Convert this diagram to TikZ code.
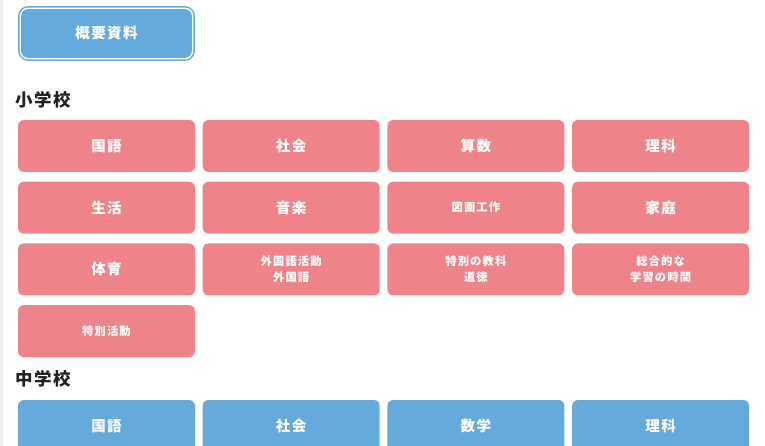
\documentclass[tikz,border=0pt]{standalone}
\usepackage{fontspec}
\setmainfont{Noto Sans CJK JP}
\newfontfamily\jpsp{Noto Sans CJK JP}[LetterSpace=10]
\usetikzlibrary{positioning}
\definecolor{subjpink}{HTML}{EE838A}
\definecolor{subjblue}{HTML}{64AADC}
\definecolor{headdark}{HTML}{222222}
\definecolor{sidegray}{HTML}{EEEEEE}

\begin{document}
\begin{tikzpicture}[x=1pt,y=-1pt,
    subjbox/.style={minimum width=177pt, minimum height=52pt, rounded corners=6pt,
        inner sep=0pt, text=white, align=center},
    bigtxt/.style={font=\jpsp\bfseries\fontsize{14.5}{16}\selectfont},
    smalltxt/.style={font=\jpsp\bfseries\fontsize{11.3}{16}\selectfont},
    headtxt/.style={font=\jpsp\bfseries\fontsize{17.5}{20}\selectfont, text=headdark, inner sep=0pt}]
    \useasboundingbox (0,0) rectangle (765,446);
    \fill[sidegray] (0,0) rectangle (2.5,446);

    % Overview button
    \node[subjbox, bigtxt, fill=subjblue, draw=subjblue, double=white, double distance=1.4pt,
        line width=1.5pt, minimum width=172.5pt, minimum height=50.5pt, rounded corners=8pt]
        (overview) at (106.5,33.5) {概要資料};

    % Elementary school
    \node[headtxt, anchor=west] (elem) at (15,100) {小学校};
    \foreach \i/\c/\r/\v/\s in {1/0/0/国語/bigtxt, 2/1/0/社会/bigtxt, 3/2/0/算数/bigtxt, 4/3/0/理科/bigtxt,
        5/0/1/生活/bigtxt, 6/1/1/音楽/bigtxt, 7/2/1/図画工作/smalltxt, 8/3/1/家庭/bigtxt,
        9/0/2/体育/bigtxt, 10/1/2/{外国語活動\\外国語}/smalltxt, 11/2/2/{特別の教科\\道徳}/smalltxt,
        12/3/2/{総合的な\\学習の時間}/smalltxt, 13/0/3/特別活動/smalltxt} {
        \node[subjbox, fill=subjpink, \s] (e\i) at ({106.5+184.7*\c},{146+61.7*\r}) {\v};
    }

    % Junior high school
    \node[headtxt, anchor=west] (junior) at (15,379) {中学校};
    \foreach \i/\v in {0/国語,1/社会,2/数学,3/理科} {
        \node[subjbox, fill=subjblue, bigtxt] (j\i) at ({106.5+184.7*\i},426) {\v};
    }
\end{tikzpicture}
\end{document}
